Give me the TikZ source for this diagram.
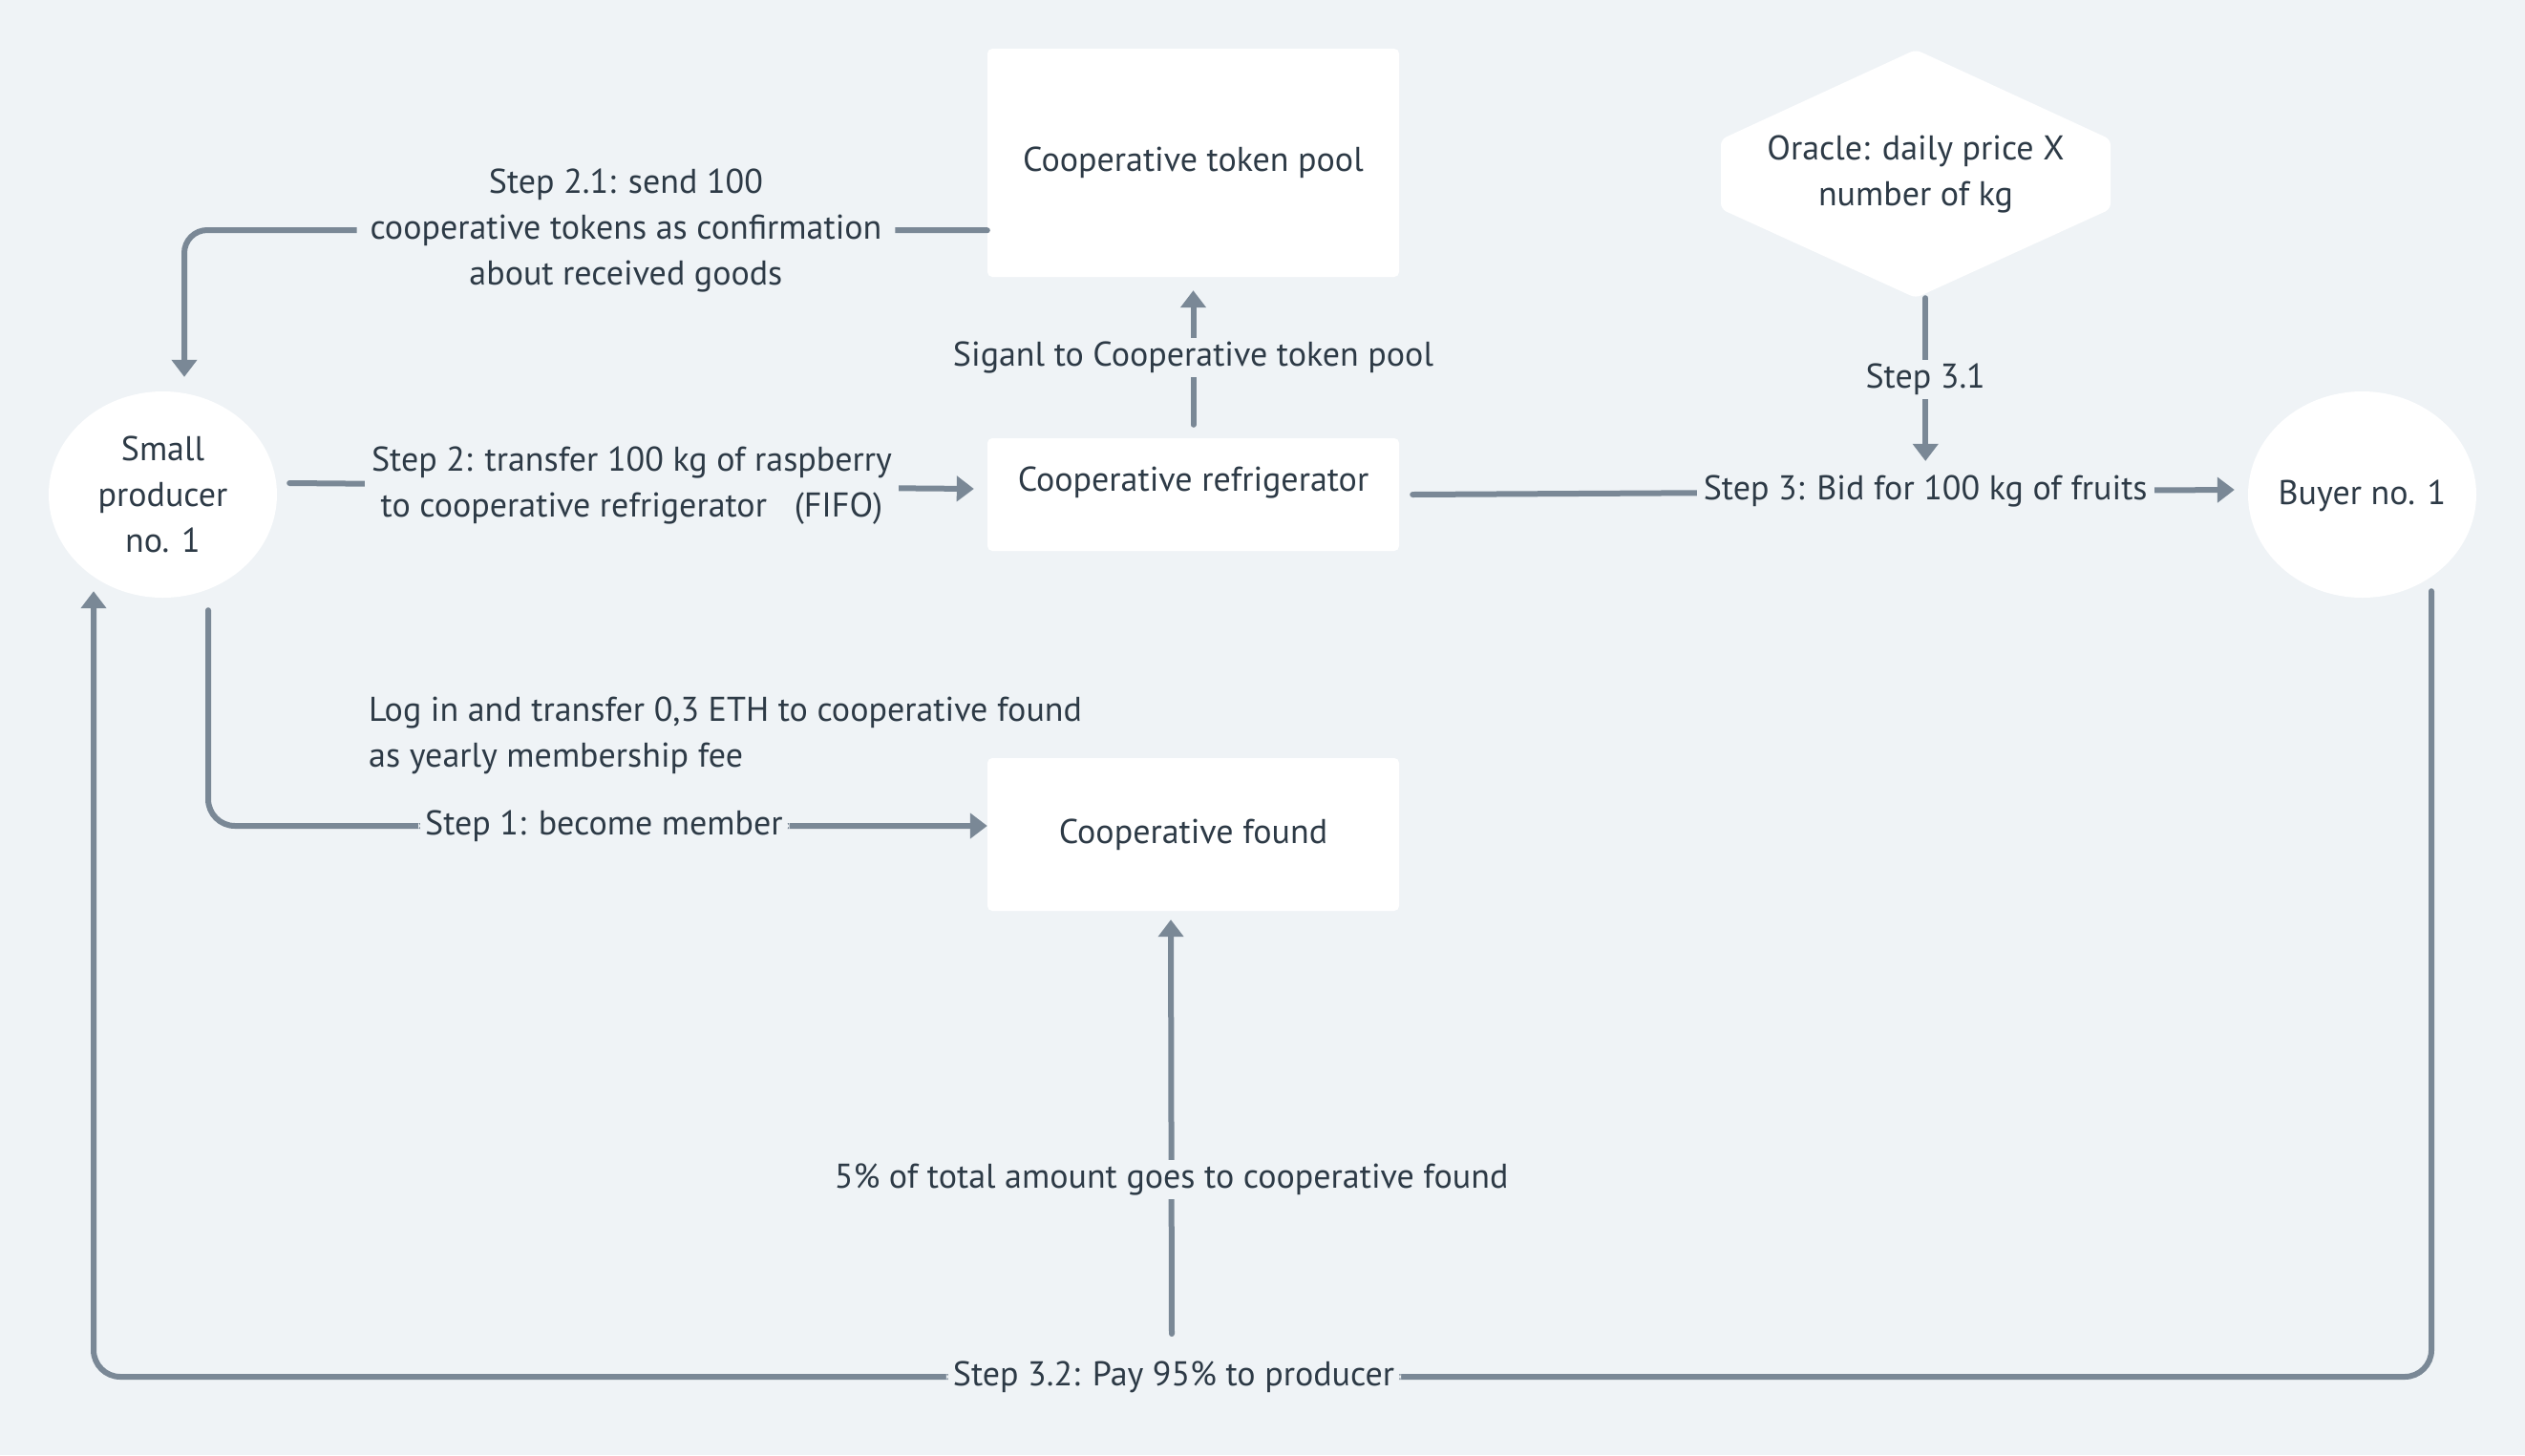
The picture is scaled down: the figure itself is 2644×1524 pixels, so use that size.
\documentclass[tikz,border=0pt]{standalone}
\usepackage{fontspec}
\setmainfont{PT Sans}
\usetikzlibrary{arrows.meta,shapes.geometric,calc}
\definecolor{bg}{HTML}{EFF3F6}
\definecolor{wire}{HTML}{7A8896}
\definecolor{ink}{HTML}{2D3A46}
\begin{document}
\begin{tikzpicture}[x=1pt,y=-1pt,
  every node/.style={font=\fontsize{36}{48}\selectfont, text=ink},
  box/.style={fill=white, rounded corners=5pt, inner sep=0pt, minimum width=431pt, align=center},
  blob/.style={ellipse, fill=white, inner sep=0pt, minimum width=239pt, minimum height=216pt, align=center},
  conn/.style={draw=wire, line width=6pt, line cap=round, -{Triangle[length=18pt,width=26pt]}},
  lbl/.style={fill=bg, inner xsep=7pt, inner ysep=4pt, align=center}]

% canvas
\fill[bg] (0,0) rectangle (2644,1524);
\useasboundingbox (0,0) rectangle (2644,1524);

% participants
\node[blob] (prod) at (170.5,518) {Small\\producer\\no. 1};
\node[blob, label={[yshift=-1pt]center:Buyer no. 1}] (buyer) at (2473.5,518) {};
\node[box, minimum height=239pt] (pool) at (1249.5,170.5) {Cooperative token pool};
\node[box, minimum height=118pt, label={[yshift=13pt]center:Cooperative refrigerator}] (fridge) at (1249.5,518) {};
\node[box, minimum height=160pt] (found) at (1249.5,874) {Cooperative found};

% price oracle (hexagon)
\fill[white, rounded corners=6pt] (2006,52) -- (2210,146) -- (2210,219) -- (2006,312)
  -- (1802,219) -- (1802,146) -- cycle;
\node[minimum width=408pt, minimum height=260pt, inner sep=0pt, align=center] (oracle)
  at (2006,182) {Oracle: daily price X\\number of kg};

% free note about membership
\node[anchor=west, align=left, inner sep=0pt] (note) at (386,770)
  {Log in and transfer 0,3 ETH to cooperative found\\as yearly membership fee};

% Step 1
\draw[conn, rounded corners=28pt] ($(prod.south)+(47.5,13)$) |-
  node[lbl, pos=0.754] {Step 1: become member} ($(found.west)+(0,-9)$);

% Step 2
\draw[conn] ($(prod.east)+(13,-12)$) --
  node[lbl] {Step 2: transfer 100 kg of raspberry\\to cooperative refrigerator\ \ \ (FIFO)}
  ($(fridge.west)+(-14,-6)$);

% signal to the token pool
\draw[conn] ($(fridge.north)+(0,-14)$) --
  node[lbl] {Siganl to Cooperative token pool} ($(pool.south)+(0,14)$);

% Step 2.1
\draw[conn, rounded corners=24pt] ($(pool.south west)+(0,-49)$) --
  node[lbl, pos=0.45, inner xsep=14pt] {Step 2.1: send 100\\cooperative tokens as confirmation\\about received goods}
  (193,241) -- ($(prod.north)+(22.5,-15)$);

% Step 3
\draw[conn] ($(fridge.east)+(14,0)$) --
  node[lbl, pos=0.624] (bid) {Step 3: Bid for 100 kg of fruits} ($(buyer.west)+(-14,-5)$);

% Step 3.1
\draw[conn] (oracle.south -| bid.center) --
  node[lbl] {Step 3.1} ($(bid.center)+(0,-32)$);

% Step 3.2
\draw[conn, rounded corners=28pt] ($(buyer.south)+(72.5,-7)$) -- (2546,1442) --
  node[lbl, pos=0.538] (pay) {Step 3.2: Pay 95\% to producer} (98,1442) --
  ($(prod.south)+(-72.5,-7)$);

% share to the cooperative found
\draw[conn] ($(pay.center)+(-2,-45)$) --
  node[lbl, pos=0.373] {5\% of total amount goes to cooperative found} ($(found.south)+(-23.5,9)$);

\end{tikzpicture}
\end{document}
